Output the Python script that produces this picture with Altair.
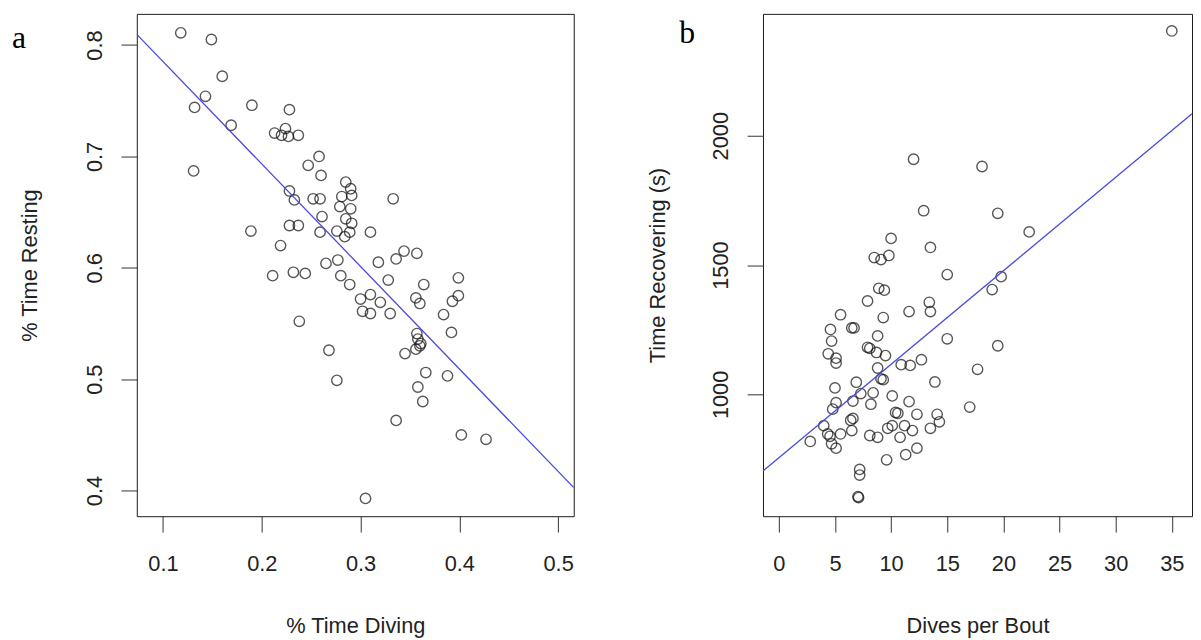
import altair as alt
import pandas as pd

# ---- Panel a: % Time Diving vs % Time Resting ----
a_x = [0.118, 0.149, 0.160, 0.143, 0.132, 0.190, 0.228, 0.169, 0.213, 0.220,
       0.224, 0.227, 0.237, 0.131, 0.258, 0.247, 0.260, 0.228, 0.233, 0.252,
       0.259, 0.261, 0.189, 0.228, 0.237, 0.259, 0.219,
       0.285, 0.290, 0.291, 0.281, 0.279, 0.290, 0.333, 0.285, 0.291, 0.289,
       0.284, 0.310, 0.276,
       0.211, 0.232, 0.244, 0.265, 0.277, 0.280, 0.289, 0.318, 0.336, 0.344,
       0.357, 0.328, 0.364, 0.399, 0.300, 0.310, 0.320, 0.302, 0.310, 0.330,
       0.356, 0.360, 0.399, 0.393, 0.384, 0.357, 0.358, 0.361, 0.356, 0.360,
       0.392, 0.238, 0.345, 0.268, 0.366, 0.388, 0.276, 0.358, 0.363, 0.336,
       0.402, 0.427, 0.305]
a_y = [0.811, 0.805, 0.772, 0.754, 0.744, 0.746, 0.742, 0.728, 0.721, 0.719,
       0.725, 0.718, 0.719, 0.687, 0.700, 0.692, 0.683, 0.669, 0.661, 0.662,
       0.662, 0.646, 0.633, 0.638, 0.638, 0.632, 0.620,
       0.677, 0.671, 0.665, 0.664, 0.655, 0.653, 0.662, 0.644, 0.640, 0.632,
       0.628, 0.632, 0.633,
       0.593, 0.596, 0.595, 0.604, 0.607, 0.593, 0.585, 0.605, 0.608, 0.615,
       0.613, 0.589, 0.585, 0.591, 0.572, 0.576, 0.569, 0.561, 0.559, 0.559,
       0.573, 0.568, 0.575, 0.570, 0.558, 0.541, 0.536, 0.532, 0.527, 0.530,
       0.542, 0.552, 0.523, 0.526, 0.506, 0.503, 0.499, 0.493, 0.480, 0.463,
       0.450, 0.446, 0.393]
a_fit_x = [0.0735, 0.5158]
a_fit_y = [0.8096, 0.4027]
a_xticks = [0.1, 0.2, 0.3, 0.4, 0.5]
a_yticks = [0.4, 0.5, 0.6, 0.7, 0.8]

# ---- Panel b: Dives per Bout vs Time Recovering ----
b_x = [35.0, 12.0, 18.1, 12.9, 19.5, 22.3, 10.0, 13.5, 8.5, 9.1,
       9.8, 15.0, 19.8, 8.9, 9.4, 19.0, 7.9, 13.4, 13.5, 11.6,
       5.5, 9.3, 4.6, 6.5, 6.7, 4.7, 8.8, 15.0, 7.9, 8.1,
       8.7, 9.5, 4.4, 5.1, 5.1, 19.5, 12.7, 10.9, 11.7, 8.8,
       17.7, 9.1, 9.3, 6.9, 13.9, 5.0, 7.3, 8.4, 10.1, 6.6,
       11.6, 5.1, 8.2, 17.0, 4.8, 10.4, 10.6, 12.3, 14.1, 6.6,
       6.4, 14.3, 4.0, 10.1, 11.2, 9.7, 13.5, 11.9, 6.5, 5.5,
       4.35, 4.56, 8.1, 8.8, 10.8, 2.8, 4.7, 5.1, 12.3, 11.3,
       9.6, 7.2, 7.2, 7.05, 7.1]
b_y = [2405, 1909, 1881, 1710, 1700, 1628, 1603, 1568, 1529, 1521,
       1537, 1463, 1455, 1410, 1403, 1405, 1361, 1356, 1320, 1320,
       1308, 1297, 1251, 1257, 1257, 1206, 1226, 1215, 1182, 1178,
       1162, 1150, 1157, 1140, 1121, 1188, 1134, 1115, 1112, 1102,
       1097, 1060, 1057, 1047, 1048, 1025, 1003, 1006, 994, 974,
       972, 968, 962, 951, 943, 930, 927, 923, 923, 907,
       900, 894, 879, 879, 879, 869, 869, 860, 860, 847,
       847, 838, 841, 834, 834, 818, 809, 792, 792, 767,
       747, 710, 688, 605, 601]
b_fit_x = [-1.41, 36.8]
b_fit_y = [704, 2085]
b_xticks = [0, 5, 10, 15, 20, 25, 30, 35]
b_yticks = [1000, 1500, 2000]

PT_COLOR = "#111111"
LINE_COLOR = "#4848e0"
FONT = "Liberation Sans"


def panel(xs, ys, fx, fy, xdom, ydom, xticks, yticks, xfmt, yfmt,
          xtitle, ytitle, letter, letter_x, letter_y, ytp, w, h):
    pts = pd.DataFrame({"x": xs, "y": ys})
    fit = pd.DataFrame({"x": fx, "y": fy})
    xscale = alt.Scale(domain=xdom, nice=False, zero=False)
    yscale = alt.Scale(domain=ydom, nice=False, zero=False)
    xaxis = alt.Axis(title=xtitle, values=xticks, format=xfmt,
                     labelPadding=22, titlePadding=41)
    yaxis = alt.Axis(title=ytitle, values=yticks, format=yfmt,
                     labelAngle=270, labelAlign="center", labelBaseline="bottom",
                     labelPadding=15, titlePadding=ytp)
    points = alt.Chart(pts).mark_point(
        shape="circle", filled=False, size=110, strokeWidth=1.4, color=PT_COLOR
    ).encode(
        x=alt.X("x:Q", scale=xscale, axis=xaxis),
        y=alt.Y("y:Q", scale=yscale, axis=yaxis),
    )
    line = alt.Chart(fit).mark_line(color=LINE_COLOR, strokeWidth=1.3, clip=True).encode(
        x=alt.X("x:Q", scale=xscale),
        y=alt.Y("y:Q", scale=yscale),
    )
    lab = alt.Chart(pd.DataFrame({"t": [letter]})).mark_text(
        font="Liberation Serif", fontSize=32, align="left", baseline="alphabetic",
        color="#000000"
    ).encode(text="t:N", x=alt.value(letter_x), y=alt.value(letter_y))
    return alt.layer(points, line, lab).properties(width=w, height=h)


pa = panel(a_x, a_y, a_fit_x, a_fit_y, [0.0735, 0.5158], [0.377, 0.828],
           a_xticks, a_yticks, ".1f", ".1f", "% Time Diving", "% Time Resting",
           "a", -126, 34, 42, 441, 507)
pb = panel(b_x, b_y, b_fit_x, b_fit_y, [-1.41, 36.8], [529, 2471],
           b_xticks, b_yticks, "d", "d", "Dives per Bout", "Time Recovering (s)",
           "b", -84.5, 29.5, 40, 433, 507)

chart = alt.hconcat(pa, pb, spacing=72).properties(
    padding={"left": 3, "top": 2, "right": 0, "bottom": 0}
).configure_view(
    stroke="#1a1a1a", strokeWidth=1
).configure_axis(
    domain=False, grid=False, ticks=True, tickSize=16, tickColor="#333333",
    tickWidth=1, labelFont=FONT, labelFontSize=22, labelColor="#222222",
    labelFlush=False, labelOverlap=False,
    titleFont=FONT, titleFontSize=22, titleFontWeight="normal", titleColor="#222222"
)

chart.save("out.html", embed_options={"renderer": "svg", "actions": False})
